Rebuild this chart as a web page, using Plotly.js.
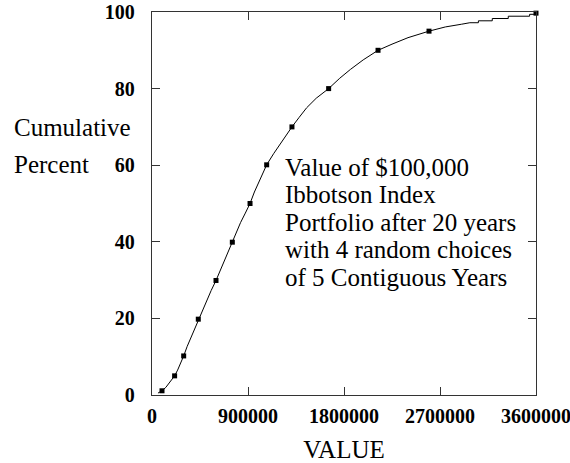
<!DOCTYPE html>
<html>
<head>
<meta charset="utf-8">
<script src="https://cdn.plot.ly/plotly-3.0.1.min.js"></script>
<style>html,body{margin:0;padding:0;background:#fff;}#chart{width:570px;height:463px;}</style>
</head>
<body>
<div id="chart"></div>
<script>
var curveValue = [56000, 93750, 130000, 160000, 190000, 212000, 240000, 270000, 297000, 330000, 365000, 400000, 434000, 470000, 510000, 555000, 600000, 640000, 680000, 715000, 753000, 790000, 830000, 875000, 919000, 960000, 1000000, 1040000, 1075000, 1140000, 1200000, 1260000, 1312000, 1380000, 1450000, 1540000, 1656000, 1760000, 1860000, 1980000, 2119000, 2250000, 2400000, 2597000, 2750000, 2900000, 2980000, 3060000, 3190000, 3340000, 3540000, 3600000];
var curvePercent = [0.5, 1.1, 2, 3, 4, 5, 6.5, 8.3, 10.2, 12.7, 15, 17.5, 19.8, 22, 24.5, 27.3, 29.9, 32.5, 35, 37.5, 39.9, 42.5, 45, 47.5, 50, 53, 55.5, 58, 60.1, 63, 65.5, 68, 70, 72.5, 75, 77.5, 80, 82.7, 85, 87.5, 90, 91.6, 93.3, 95, 96.1, 96.8, 97.2, 97.7, 98.3, 98.9, 99.4, 99.7];
// Marked percentile points
var markValue = [93750, 212000, 297000, 434000, 600000, 753000, 919000, 1075000, 1312000, 1656000, 2119000, 2597000, 3600000];
var markPercent = [1.1, 5, 10.2, 19.8, 29.9, 39.9, 50, 60.1, 70, 80, 90, 95, 99.7];
var xTicks = [0, 900000, 1800000, 2700000, 3600000];
var xTickText = ["0", "900000", "1800000", "2700000", "3600000"];
var yTicks = [0, 20, 40, 60, 80, 100];
var labelLines = ["Value of $100,000", "Ibbotson Index", "Portfolio after 20 years", "with 4 random choices", "of 5 Contiguous Years"];
var yLabelLines = ["Cumulative", "Percent"];

var FONT = 'Liberation Serif';
var L = 152, R = 536, T = 12, B = 395, W = 570, H = 463;
function px2x(px){ return (px - L) / (R - L); }
function py2y(py){ return (B - py) / (B - T); }

var annotations = [];
var lineCenters = [167, 194.5, 222, 249.5, 277];
labelLines.forEach(function(t, i){
  annotations.push({text: t, xref: 'paper', yref: 'paper', x: px2x(283), y: py2y(lineCenters[i]),
    xanchor: 'left', yanchor: 'middle', showarrow: false, font: {family: FONT, size: 25, color: '#000'}});
});
var yLabCenters = [128, 164];
yLabelLines.forEach(function(t, i){
  annotations.push({text: t, xref: 'paper', yref: 'paper', x: px2x(12), y: py2y(yLabCenters[i]),
    xanchor: 'left', yanchor: 'middle', showarrow: false, font: {family: FONT, size: 25, color: '#000'}});
});

// the upper tail of the curve is drawn as stairs, as in the picture
var stepStart = curveValue.indexOf(2980000);
var traces = [
  {x: curveValue.slice(0, stepStart + 1), y: curvePercent.slice(0, stepStart + 1), type: 'scatter', mode: 'lines', line: {color: '#000', width: 1}},
  {x: curveValue.slice(stepStart), y: curvePercent.slice(stepStart), type: 'scatter', mode: 'lines', line: {color: '#000', width: 1, shape: 'hv'}},
  {x: markValue, y: markPercent, type: 'scatter', mode: 'markers', marker: {symbol: 'square', size: 5, color: '#000'}, cliponaxis: false}
];

function axisBase(){
  return {showline: true, linecolor: '#333', linewidth: 1.2, mirror: 'ticks', ticks: 'inside', ticklen: 8, tickcolor: '#333', tickwidth: 1, showgrid: false, zeroline: false,
    ticklabeloverflow: 'allow', tickfont: {family: FONT, size: 20, color: '#000', weight: 'bold'}};
}

var layout = {
  width: W, height: H, showlegend: false,
  font: {family: FONT, color: '#000'},
  margin: {l: L, r: W - R, t: T, b: H - B, pad: 0},
  paper_bgcolor: '#fff', plot_bgcolor: '#fff',
  xaxis: Object.assign(axisBase(), {range: [0, 3600000], tickvals: xTicks, ticktext: xTickText, ticklabelstandoff: 3,
    title: {text: 'VALUE', font: {family: FONT, size: 25, color: '#000'}, standoff: 14}}),
  yaxis: Object.assign(axisBase(), {range: [0, 100], tickvals: yTicks, ticklabelstandoff: 12}),
  annotations: annotations
};

Plotly.newPlot('chart', traces, layout, {staticPlot: true, displayModeBar: false});
</script>
</body>
</html>
